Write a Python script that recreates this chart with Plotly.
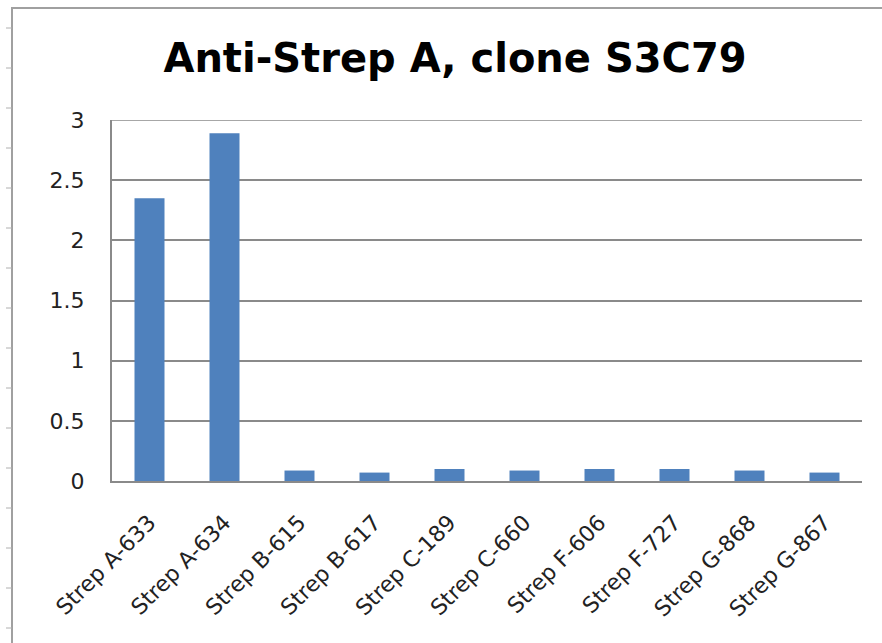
import plotly.graph_objects as go

categories = ["Strep A-633", "Strep A-634", "Strep B-615", "Strep B-617", "Strep C-189",
              "Strep C-660", "Strep F-606", "Strep F-727", "Strep G-868", "Strep G-867"]
values = [2.35, 2.89, 0.087, 0.07, 0.10, 0.087, 0.10, 0.10, 0.087, 0.07]
y_ticks = [0, 0.5, 1, 1.5, 2, 2.5, 3]
y_tick_labels = ["0", "0.5", "1", "1.5", "2", "2.5", "3"]

W, H = 882, 643
L, R, T, B = 112, 20, 120, 162
pw, ph = W - L - R, H - T - B

def px_to_paper_x(px):
    return (px - L) / pw

def px_to_paper_y(py):
    return (H - B - py) / ph

fig = go.Figure()
fig.add_trace(go.Bar(
    x=categories, y=values, marker=dict(color="#4F81BD", line=dict(width=0)),
    width=0.4,
))

grid_color = "#8A8A8A"
shapes = []
# outer frame (left + top)
shapes.append(dict(type="line", xref="paper", yref="paper",
                   x0=px_to_paper_x(12), x1=px_to_paper_x(12),
                   y0=px_to_paper_y(8), y1=px_to_paper_y(H + 5),
                   line=dict(color="#A0A0A0", width=2)))
shapes.append(dict(type="line", xref="paper", yref="paper",
                   x0=px_to_paper_x(11), x1=px_to_paper_x(W + 5),
                   y0=px_to_paper_y(8), y1=px_to_paper_y(8),
                   line=dict(color="#A0A0A0", width=2)))
for k in range(16):
    yy = 28 + 40 * k
    shapes.append(dict(type="line", xref="paper", yref="paper",
                       x0=px_to_paper_x(6), x1=px_to_paper_x(12),
                       y0=px_to_paper_y(yy), y1=px_to_paper_y(yy),
                       line=dict(color="#B0B0B0", width=1)))
# top gridline at the axis maximum
shapes.append(dict(type="line", xref="paper", yref="y", x0=0, x1=1,
                   y0=y_ticks[-1], y1=y_ticks[-1],
                   line=dict(color=grid_color, width=1.5), layer="below"))

fig.update_layout(
    width=W, height=H,
    margin=dict(l=L, r=R, t=T, b=B),
    paper_bgcolor="white", plot_bgcolor="white",
    showlegend=False,
    title=dict(text="<b>Anti-Strep A, clone S3C79</b>",
               x=455 / W, xanchor="center", y=1 - 58 / H, yanchor="middle",
               font=dict(family="DejaVu Sans", size=40, color="#000000")),
    font=dict(family="DejaVu Sans", color="#222222"),
    shapes=shapes,
)
fig.update_xaxes(
    type="category", range=[-0.5, 9.5],
    showline=True, linecolor=grid_color, linewidth=2,
    tickangle=-45, tickfont=dict(size=22, color="#222222"),
    ticks="", showgrid=False, ticklabelstandoff=18,
)
fig.update_yaxes(
    range=[0, 3], tickvals=y_ticks, ticktext=y_tick_labels,
    showline=True, linecolor=grid_color, linewidth=2,
    showgrid=True, gridcolor=grid_color, gridwidth=1.5,
    zeroline=False,
    tickfont=dict(size=22, color="#222222"),
    ticks="", ticklabelstandoff=21,
)

fig.write_html("out.html", config={"displayModeBar": False},
               post_script="document.body.style.margin='0';")
